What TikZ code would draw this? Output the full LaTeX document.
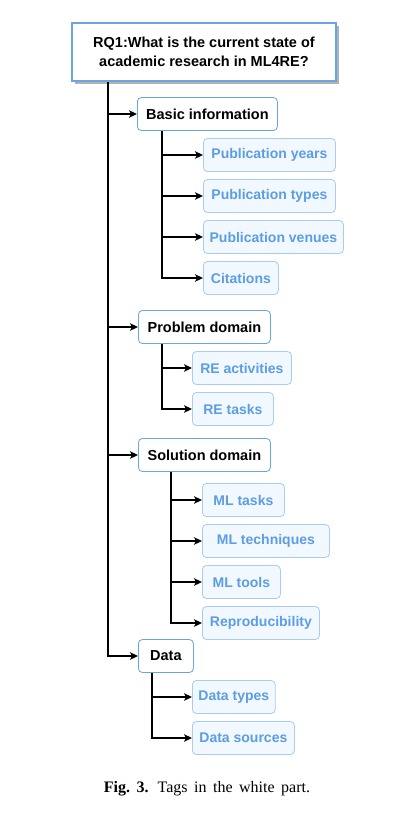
\documentclass[tikz,border=0pt]{standalone}
\usepackage{fontspec}
\setmainfont{Liberation Serif}
\setsansfont{Liberation Sans}
\usetikzlibrary{shadows,arrows.meta}
\definecolor{tagblue}{HTML}{5C9DE3}
\definecolor{tagfill}{HTML}{F1F8FF}
\definecolor{tagline}{HTML}{A8CDF3}
\definecolor{headline}{HTML}{6AA5E2}
\tikzset{
	rootbox/.style={draw=headline, line width=2pt, fill=white, minimum width=264pt, minimum height=58pt, align=center, font=\sffamily\bfseries\fontsize{14.5}{19}\selectfont, drop shadow={shadow xshift=2.5pt, shadow yshift=-2.5pt, fill=black!30, opacity=1}},
	groupbox/.style={draw=headline, line width=.8pt, rounded corners=4pt, fill=white, anchor=west, minimum height=33pt, inner xsep=6pt, font=\sffamily\bfseries\fontsize{14.5}{17}\selectfont},
	tagbox/.style={draw=tagline, line width=.8pt, rounded corners=4pt, fill=tagfill, text=tagblue, anchor=west, minimum height=33pt, inner xsep=6pt, font=\sffamily\bfseries\fontsize{14}{17}\selectfont},
	link/.style={->, line width=1.3pt}
}
\begin{document}
\begin{tikzpicture}[x=1pt,y=-1pt,>={Stealth[length=8pt,width=7.5pt,inset=2pt]}]
	\useasboundingbox (0,0) rectangle (402,831);
	% Câu hỏi nghiên cứu
	\node[rootbox] (rq) at (204,52) {RQ1:What is the current state of\\academic research in ML4RE?};
	% Các nhóm thẻ
	\node[groupbox, minimum width=140pt] (basic) at (137,114) {Basic information};
	\node[groupbox, minimum width=132pt] (problem) at (138,327) {Problem domain};
	\node[groupbox, minimum width=132pt] (solution) at (138,455) {Solution domain};
	\node[groupbox, minimum width=55pt] (data) at (138,656) {Data};
	% Các thẻ con
	\node[tagbox, minimum width=132pt] (pubyears) at (203,155) {Publication years};
	\node[tagbox, minimum width=132pt] (pubtypes) at (203,196) {Publication types};
	\node[tagbox, minimum width=140pt] (pubvenues) at (203,237) {Publication venues};
	\node[tagbox, minimum width=75pt] (citations) at (203,278) {Citations};
	\node[tagbox, minimum width=99pt] (reacts) at (192,368) {RE activities};
	\node[tagbox, minimum width=81pt] (retasks) at (192,409) {RE tasks};
	\node[tagbox, minimum width=82pt] (mltasks) at (202,500) {ML tasks};
	\node[tagbox, minimum width=127pt] (mltech) at (202,541) {ML techniques};
	\node[tagbox, minimum width=78pt] (mltools) at (202,582) {ML tools};
	\node[tagbox, minimum width=117pt] (repro) at (202,623) {Reproducibility};
	\node[tagbox, minimum width=81pt] (datatypes) at (192,697) {Data types};
	\node[tagbox, minimum width=102pt] (datasources) at (192,738) {Data sources};
	% Các mũi tên
	\foreach \n in {basic,problem,solution,data}
		\draw[link] ([xshift=37pt]rq.south west) |- (\n.west);
	\foreach \n in {pubyears,pubtypes,pubvenues,citations}
		\draw[link] ([xshift=25pt]basic.south west) |- (\n.west);
	\foreach \n in {reacts,retasks}
		\draw[link] ([xshift=24pt]problem.south west) |- (\n.west);
	\foreach \n in {mltasks,mltech,mltools,repro}
		\draw[link] ([xshift=33pt]solution.south west) |- (\n.west);
	\foreach \n in {datatypes,datasources}
		\draw[link] ([xshift=14pt]data.south west) |- (\n.west);
	% Chú thích
	\node[font=\fontsize{16}{19}\selectfont] (caption) at (207,789) {\spaceskip=6.5pt plus 1pt\textbf{Fig.~3.}\hspace{9pt}Tags in the white part.};
\end{tikzpicture}
\end{document}
